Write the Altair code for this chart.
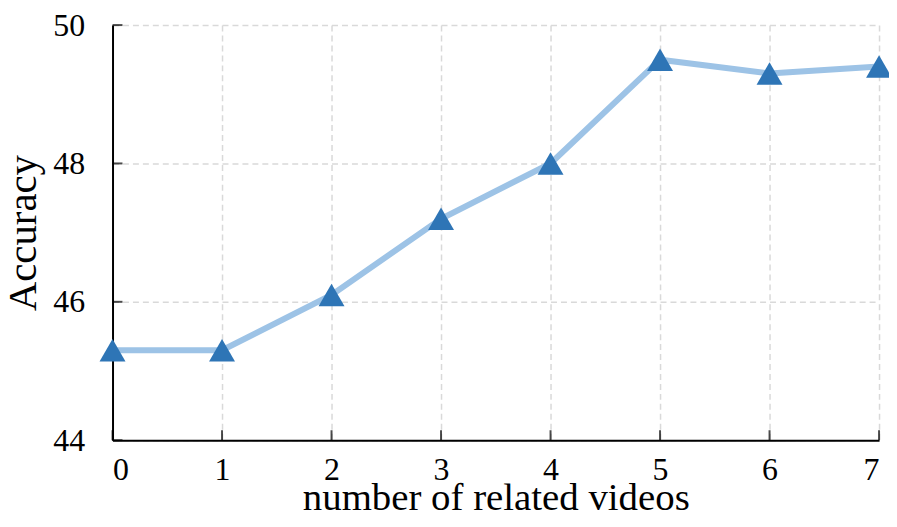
import altair as alt
import pandas as pd

num_videos = [0, 1, 2, 3, 4, 5, 6, 7]
accuracy = [45.3, 45.3, 46.1, 47.2, 48.0, 49.5, 49.3, 49.4]
y_ticks = [44, 46, 48, 50]

df = pd.DataFrame({"n": num_videos, "acc": accuracy})
xt = pd.DataFrame({"n": num_videos})
yt = pd.DataFrame({"v": y_ticks})

FONT = "Liberation Serif"

xscale = alt.Scale(domain=[0, 7], nice=False, zero=False)
yscale = alt.Scale(domain=[44, 50], nice=False, zero=False)

xaxis = alt.Axis(values=num_videos, title="number of related videos", ticks=False,
                 labelPadding=14, titleY=70, titleBaseline="alphabetic",
                 titleFontSize=39, format="d",
                 gridDash=[6, 4], gridColor="#d9d9d9", gridWidth=1.5)
yaxis = alt.Axis(values=y_ticks, title="Accuracy", ticks=False, labelPadding=28,
                 titlePadding=8, titleFontSize=41, format="d",
                 gridDash=[6, 4], gridColor="#d9d9d9", gridWidth=1.5)

line = alt.Chart(df).mark_line(color="#9dc3e6", strokeWidth=6).encode(
    x=alt.X("n:Q", scale=xscale, axis=xaxis),
    y=alt.Y("acc:Q", scale=yscale, axis=yaxis),
)
pts = alt.Chart(df).mark_point(shape="triangle-up", filled=True, opacity=1,
                               color="#2e75b6", size=680).encode(
    x=alt.X("n:Q", scale=xscale),
    y=alt.Y("acc:Q", scale=yscale),
)
xticks = alt.Chart(xt).mark_tick(orient="vertical", color="black", thickness=2,
                                 size=10, yOffset=-5).encode(
    x=alt.X("n:Q", scale=xscale),
    y=alt.datum(44, scale=yscale),
)
yticks = alt.Chart(yt).mark_tick(orient="horizontal", color="black", thickness=2,
                                 size=10, xOffset=5).encode(
    y=alt.Y("v:Q", scale=yscale),
    x=alt.datum(0, scale=xscale),
)

chart = alt.layer(line, xticks, yticks, pts).properties(
    width=770, height=417,
    autosize=alt.AutoSizeParams(type="none"),
    padding={"left": 105, "top": 16, "right": 10, "bottom": 74},
).configure_view(stroke=None).configure_axis(
    labelFont=FONT, titleFont=FONT, labelFontSize=32,
    labelColor="black", titleColor="black", titleFontWeight="normal",
    domainColor="black", domainWidth=2,
)

chart.save("out.html", embed_options={"renderer": "svg", "actions": False})
